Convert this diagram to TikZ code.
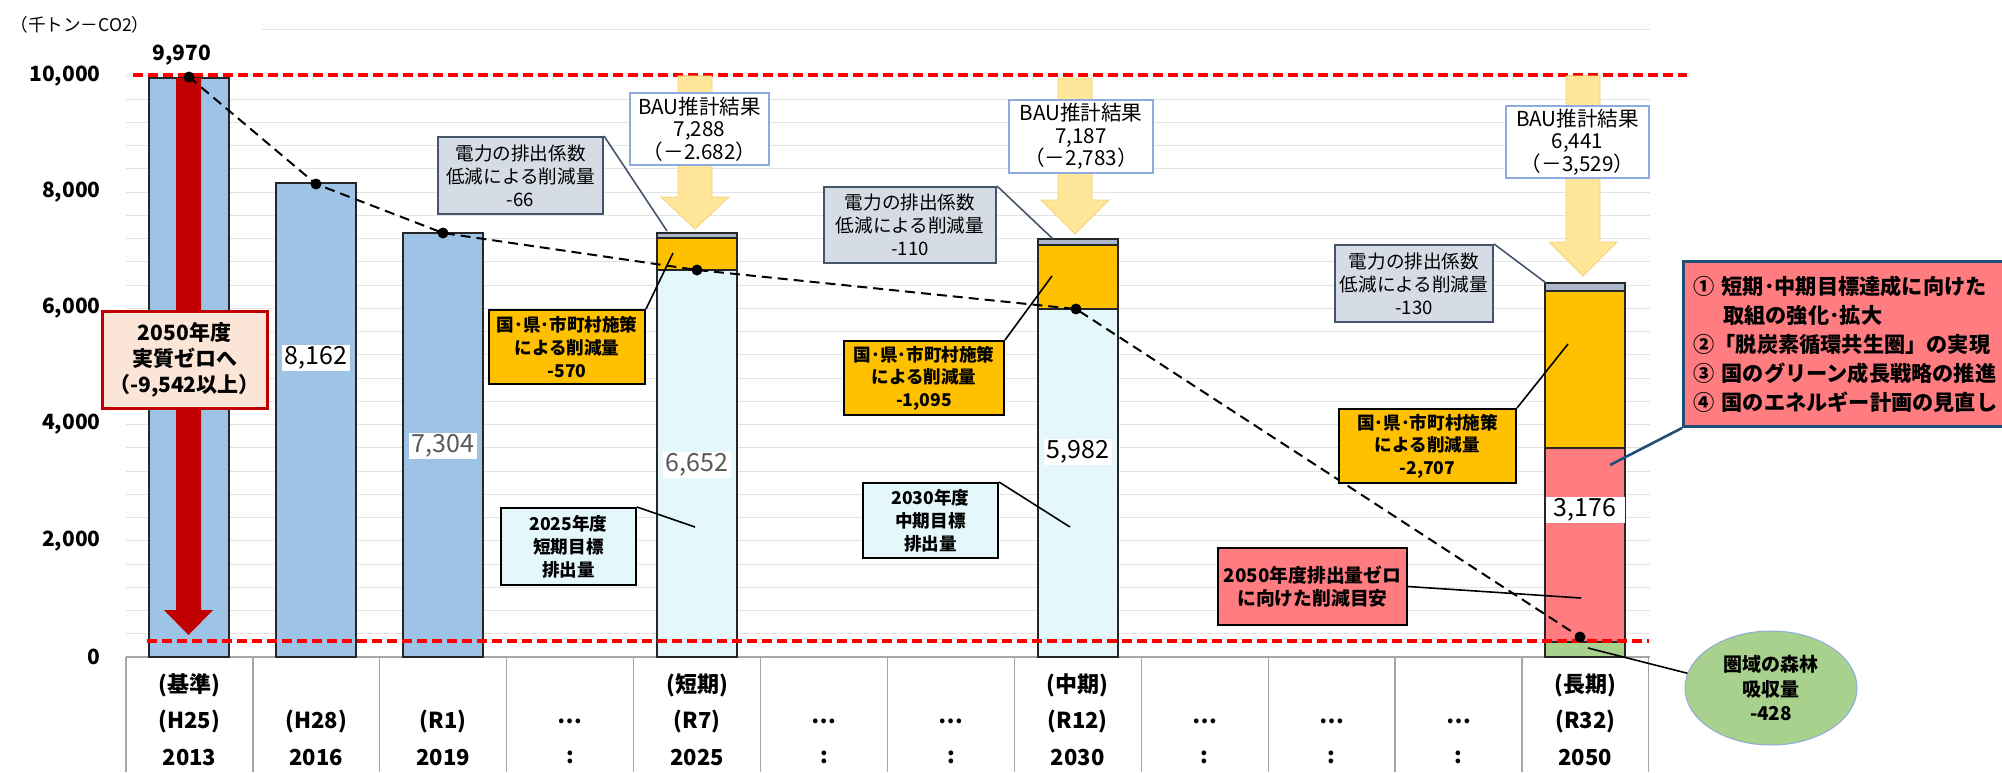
\documentclass[tikz,border=0pt]{standalone}
\usepackage{fontspec}
\setmainfont{Noto Sans CJK JP}
\usetikzlibrary{shapes.geometric}

\definecolor{pastblue}{HTML}{9DC3E6}
\definecolor{goalcyan}{HTML}{E4F8FC}
\definecolor{policyorange}{HTML}{FFC000}
\definecolor{elecgray}{HTML}{ADB9CA}
\definecolor{calloutgray}{HTML}{D6DCE5}
\definecolor{slate}{HTML}{44546A}
\definecolor{zeropink}{HTML}{FF7C80}
\definecolor{forestgreen}{HTML}{A9D18E}
\definecolor{peach}{HTML}{FBE5D6}
\definecolor{darkred}{HTML}{C00000}
\definecolor{bauyellow}{HTML}{FFE699}
\definecolor{bauedge}{HTML}{F2D27A}
\definecolor{bauframe}{HTML}{8FAADC}
\definecolor{navy}{HTML}{1F4E79}
\definecolor{gridgray}{HTML}{E3E3E3}
\definecolor{rulegray}{HTML}{A6A6A6}
\definecolor{labgray}{HTML}{595959}
\definecolor{barline}{HTML}{262626}

\tikzset{gridrule/.style  = {draw=gridgray, line width=0.5pt},
         tablerule/.style = {draw=rulegray, line width=0.6pt},
         barseg/.style    = {fill=#1, draw=barline, line width=0.9pt},
         targetline/.style = {draw=red, line width=1.7pt, dash pattern=on 5pt off 2.5pt},
         trendline/.style  = {draw=black, line width=1pt, dash pattern=on 5pt off 3pt},
         bauarrow/.style   = {fill=bauyellow, draw=bauedge, line width=0.4pt},
         callout/.style    = {rectangle, align=center, inner sep=0pt},
         baubox/.style     = {callout, fill=white, draw=bauframe, line width=0.6pt,
                              font=\fontsize{10.3}{11.2}\selectfont},
         elecbox/.style    = {callout, fill=calloutgray, draw=slate, line width=1pt,
                              font=\fontsize{9.3}{11.5}\selectfont},
         policybox/.style  = {callout, fill=policyorange, draw=black, line width=1pt,
                              font=\bfseries\fontsize{8.8}{11.3}\selectfont},
         goalbox/.style    = {callout, fill=goalcyan, draw=black, line width=1pt,
                              font=\bfseries\fontsize{8.8}{11.5}\selectfont},
         zerobox/.style    = {callout, fill=zeropink, draw=black, line width=1pt,
                              font=\bfseries\fontsize{9.4}{11.5}\selectfont},
         netzerobox/.style = {callout, fill=peach, draw=darkred, line width=1.5pt,
                              font=\bfseries\fontsize{10.5}{13}\selectfont},
         listbox/.style    = {rectangle, align=left, inner xsep=2pt, inner ysep=0pt,
                              fill=zeropink, draw=navy, line width=1.5pt,
                              font=\bfseries\fontsize{10.6}{14.5}\selectfont},
         forestnode/.style = {ellipse, align=center, inner sep=0pt, fill=forestgreen,
                              draw=bauframe, line width=0.5pt,
                              font=\bfseries\fontsize{9.5}{12.2}\selectfont},
         vallabel/.style   = {fill=white, inner xsep=1.5pt, inner ysep=1pt,
                              font=\fontsize{12.5}{14}\selectfont},
         axislabel/.style  = {inner sep=0pt, font=\bfseries\fontsize{10.5}{12}\selectfont},
         catlabel/.style   = {inner sep=0pt, font=\bfseries\fontsize{11}{13}\selectfont},
         link/.style       = {draw=black, line width=0.8pt}
        }

\begin{document}
\begin{tikzpicture}[x=0.5pt, y=-0.5pt]
  \useasboundingbox (0,0) rectangle (2002,772);
  \clip (0,0) rectangle (2002,772);

  \foreach \v in {0,400,...,10000}
    \draw[gridrule] (126,{657-\v*0.0581}) -- (1650,{657-\v*0.0581});
  \draw[gridrule] (262,29) -- (1650,29);

  \node[inner sep=0pt, anchor=west, font=\fontsize{8.8}{10}\selectfont] (unit) at (10,25) {（千トン－CO2）};
  \foreach \v/\lab in {0/0, 2000/{2,000}, 4000/{4,000}, 6000/{6,000}, 8000/{8,000}, 10000/{10,000}}
    \node[axislabel, anchor=east] (ax\v) at (101,{657-\v*0.0581}) {\lab};

  \draw[tablerule] (126,657) -- (1650,657);
  \foreach \k in {0,...,12}
    \draw[tablerule] ({126+126.9*\k},657) -- ({126+126.9*\k},772);

  \draw[barseg=pastblue] (149,657) rectangle (229,78);
  \draw[barseg=pastblue] (276,657) rectangle (356,183);
  \draw[barseg=pastblue] (403,657) rectangle (483,233);

  \draw[barseg=goalcyan] (657,657) rectangle (737,270);
  \draw[barseg=policyorange] (657,270) rectangle (737,238);
  \draw[barseg=elecgray] (657,238) rectangle (737,233);

  \draw[barseg=goalcyan] (1038,657) rectangle (1118,309);
  \draw[barseg=policyorange] (1038,309) rectangle (1118,245);
  \draw[barseg=elecgray] (1038,245) rectangle (1118,239);

  \draw[barseg=forestgreen] (1545,657) rectangle (1625,642);
  \draw[barseg=zeropink] (1545,642) rectangle (1625,448);
  \draw[barseg=policyorange] (1545,448) rectangle (1625,291);
  \draw[barseg=elecgray] (1545,291) rectangle (1625,283);

  \fill[darkred] (176,78) -- (201,78) -- (201,610) -- (213,610) -- (188.5,635)
                 -- (164,610) -- (176,610) -- cycle;

  \draw[targetline] (133,75) -- (1687,75);
  \draw[targetline] (147,641) -- (1649,641);

  \coordinate (p13) at (189,77);
  \coordinate (p16) at (316,184);
  \coordinate (p19) at (443,233);
  \coordinate (p25) at (697,270);
  \coordinate (p30) at (1076,309);
  \coordinate (p50) at (1580,637);
  \draw[trendline] (p13) -- (p16) -- (p19) -- (p25) -- (p30) -- (p50);
  \foreach \p in {p13,p16,p19,p25,p30,p50}
    \fill (\p) circle (5.5);

  \foreach \cx/\ya/\yb/\yc in {695/76/197/229, 1075/78/200/234, 1583/76/242/276}
    \draw[bauarrow] (\cx-17,\ya) -- (\cx+17,\ya) -- (\cx+17,\yb) -- (\cx+34,\yb)
                    -- (\cx,\yc) -- (\cx-34,\yb) -- (\cx-17,\yb) -- cycle;

  \node[baubox, minimum width=69.5pt, minimum height=36pt] (bau25) at (699.5,129)
       {BAU推計結果\\7,288\\（－2.682）};
  \node[baubox, minimum width=72pt, minimum height=36.5pt] (bau30) at (1081,136.5)
       {BAU推計結果\\7,187\\（－2,783）};
  \node[baubox, minimum width=71.5pt, minimum height=36pt] (bau50) at (1577.5,142)
       {BAU推計結果\\6,441\\（－3,529）};

  \coordinate (e25) at (667,231);
  \coordinate (e30) at (1053,239);
  \coordinate (e50) at (1546,283);
  \coordinate (o25) at (673,253);
  \coordinate (o30) at (1052,276);
  \coordinate (o50) at (1568,344);
  \coordinate (g25) at (695,527);
  \coordinate (g30) at (1070,527);
  \coordinate (z50) at (1581,598);
  \coordinate (l50) at (1610,465);
  \coordinate (f50) at (1588,648);

  \node[elecbox, minimum width=82.5pt, minimum height=38.5pt] (elec25) at (520.5,175.5)
       {電力の排出係数\\低減による削減量\\-66};
  \node[elecbox, minimum width=86pt, minimum height=38pt] (elec30) at (910,225)
       {電力の排出係数\\低減による削減量\\-110};
  \node[elecbox, minimum width=79pt, minimum height=38.5pt] (elec50) at (1414,283.5)
       {電力の排出係数\\低減による削減量\\-130};
  \draw[link, draw=slate] (elec25.north east) -- (e25);
  \draw[link, draw=slate] (elec30.north east) -- (e30);
  \draw[link, draw=slate] (elec50.north east) -- (e50);

  \node[policybox, minimum width=78pt, minimum height=37pt] (pol25) at (567,347)
       {国･県･市町村施策\\による削減量\\-570};
  \node[policybox, minimum width=80pt, minimum height=37pt] (pol30) at (924,378)
       {国･県･市町村施策\\による削減量\\-1,095};
  \node[policybox, minimum width=88.5pt, minimum height=37pt] (pol50) at (1427.5,446)
       {国･県･市町村施策\\による削減量\\-2,707};
  \draw[link] (pol25.north east) -- (o25);
  \draw[link] (pol30.north east) -- (o30);
  \draw[link] (pol50.north east) -- (o50);

  \node[goalbox, minimum width=67.5pt, minimum height=38.5pt] (goal25) at (568.5,546.5)
       {2025年度\\短期目標\\排出量};
  \node[goalbox, minimum width=67.5pt, minimum height=37.5pt] (goal30) at (930.5,520.5)
       {2030年度\\中期目標\\排出量};
  \draw[link] (goal25.north east) -- (g25);
  \draw[link] (goal30.north east) -- (g30);

  \node[zerobox, minimum width=94.5pt, minimum height=38.5pt] (zero50) at (1312.5,586.5)
       {2050年度排出量ゼロ\\に向けた削減目安};
  \draw[link] (zero50.east) -- (z50);

  \node[listbox, anchor=north west, minimum width=200pt, minimum height=82.5pt,
        text width=190pt] (measures) at (1682,260)
       {① 短期･中期目標達成に向けた\\\hspace*{1.4em}取組の強化･拡大\\②「脱炭素循環共生圏」の実現\\③ 国のグリーン成長戦略の推進\\④ 国のエネルギー計画の見直し};
  \draw[link, draw=navy, line width=1.3pt] (measures.south west) -- (l50);

  \node[forestnode, minimum width=86pt, minimum height=57pt] (forest) at (1771,688)
       {圏域の森林\\吸収量\\-428};
  \draw[link] (f50) -- (forest.170);

  \node[netzerobox, minimum width=82.5pt, minimum height=48.5pt] (netzero) at (184.5,359.5)
       {2050年度\\実質ゼロへ\\（-9,542以上）};

  \node[axislabel] (v13) at (182,55) {9,970};
  \node[vallabel] (v16) at (316,358) {8,162};
  \node[vallabel, text=labgray] (v19) at (443,446) {7,304};
  \node[vallabel, text=labgray] (v25) at (697,465) {6,652};
  \node[vallabel] (v30) at (1078,452) {5,982};
  \node[vallabel, minimum width=39.5pt] (v50) at (1585,510) {3,176};

  \foreach \k/\lab in {0/(基準), 4/(短期), 7/(中期), 11/(長期)}
    \node[catlabel] (cat\k) at ({126+126.9*(\k+0.5)},685) {\lab};
  \foreach \rb/\rc [count=\k from 0] in {(H25)/2013, (H28)/2016, (R1)/2019, …/:, (R7)/2025,
                                         …/:, …/:, (R12)/2030, …/:, …/:, …/:, (R32)/2050}
  {
    \node[catlabel] (era\k) at ({126+126.9*(\k+0.5)},721) {\rb};
    \node[catlabel] (year\k) at ({126+126.9*(\k+0.5)},757) {\rc};
  }
\end{tikzpicture}
\end{document}
